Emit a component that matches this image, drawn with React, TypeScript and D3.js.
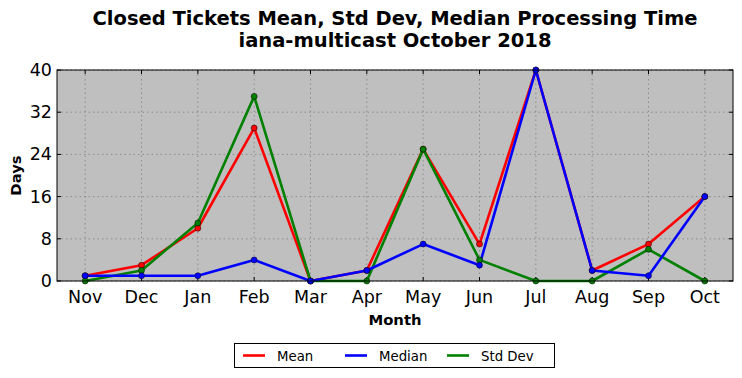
import React from "react";
import * as d3 from "d3";

const months = ["Nov", "Dec", "Jan", "Feb", "Mar", "Apr", "May", "Jun", "Jul", "Aug", "Sep", "Oct"];
const meanVals = [1, 3, 10, 29, 0, 2, 25, 7, 40, 2, 7, 16];
const medianVals = [1, 1, 1, 4, 0, 2, 7, 3, 40, 2, 1, 16];
const stdVals = [0, 2, 11, 35, 0, 0, 25, 4, 0, 0, 6, 0];
const yTicks = [0, 8, 16, 24, 32, 40];

const series = [
  { name: "Mean", color: "#ff0000", values: meanVals },
  { name: "Median", color: "#0000ff", values: medianVals },
  { name: "Std Dev", color: "#008000", values: stdVals },
];

const W = 742, H = 378;
const L = 57, R = 733, T = 70, B = 281;
const FONT = "DejaVu Sans, sans-serif";

export default function App() {
  const x = d3.scaleLinear().domain([-0.5, months.length - 0.5]).range([L, R]);
  const y = d3.scaleLinear().domain([0, 40]).range([B, T]);
  const line = d3.line<number>().x((_, i) => x(i)).y((d) => y(d));
  const drawOrder = [series[0], series[2], series[1]];
  return (
    <svg width={W} height={H} style={{ position: "absolute", left: 0, top: 0 }} fontFamily={FONT}>
      <rect width={W} height={H} fill="#fff" />
      <text x={395} y={25} textAnchor="middle" fontSize={19.5} fontWeight="bold">Closed Tickets Mean, Std Dev, Median Processing Time</text>
      <text x={395} y={47} textAnchor="middle" fontSize={19.5} fontWeight="bold">iana-multicast October 2018</text>
      <rect x={L} y={T} width={R - L} height={B - T} fill="#bfbfbf" />
      {months.map((m, i) => (
        <g key={m}>
          <line x1={x(i)} x2={x(i)} y1={T} y2={B} stroke="#808080" strokeWidth={0.8} strokeDasharray="1.5,3" />
          <line x1={x(i)} x2={x(i)} y1={B} y2={B - 4} stroke="#000" />
          <line x1={x(i)} x2={x(i)} y1={T} y2={T + 4} stroke="#000" />
          <text x={x(i)} y={B + 22} textAnchor="middle" fontSize={17.5}>{m}</text>
        </g>
      ))}
      {yTicks.map((t) => (
        <g key={t}>
          <line x1={L} x2={R} y1={y(t)} y2={y(t)} stroke="#808080" strokeWidth={0.8} strokeDasharray="1.5,3" />
          <line x1={L} x2={L + 4} y1={y(t)} y2={y(t)} stroke="#000" />
          <line x1={R} x2={R - 4} y1={y(t)} y2={y(t)} stroke="#000" />
          <text x={L - 5} y={y(t) + 6} textAnchor="end" fontSize={17.5}>{t}</text>
        </g>
      ))}
      <g clipPath="url(#clip)">
        {drawOrder.map((s) => (
          <path key={s.name} d={line(s.values) || ""} fill="none" stroke={s.color} strokeWidth={2.6} strokeLinejoin="round" />
        ))}
        {drawOrder.map((s) =>
          s.values.map((v, i) => (
            <circle key={s.name + i} cx={x(i)} cy={y(v)} r={3} fill={s.color} stroke="#000" strokeWidth={0.5} />
          ))
        )}
      </g>
      <defs>
        <clipPath id="clip">
          <rect x={L - 5} y={T - 5} width={R - L + 10} height={B - T + 10} />
        </clipPath>
      </defs>
      <rect x={L} y={T} width={R - L} height={B - T} fill="none" stroke="#000" strokeWidth={1} />
      <text x={395} y={325} textAnchor="middle" fontSize={14.8} fontWeight="bold">Month</text>
      <text transform={`translate(21,${(T + B) / 2}) rotate(-90)`} textAnchor="middle" fontSize={14.8} fontWeight="bold">Days</text>
      <rect x={234.5} y={343.5} width={320} height={24} fill="#fff" stroke="#000" strokeWidth={1} />
      {series.map((s, i) => {
        const lx = 243 + i * 102;
        return (
          <g key={s.name}>
            <line x1={lx} x2={lx + 22} y1={355.5} y2={355.5} stroke={s.color} strokeWidth={2.6} />
            <text x={lx + 34} y={360.5} fontSize={13.3}>{s.name}</text>
          </g>
        );
      })}
    </svg>
  );
}
